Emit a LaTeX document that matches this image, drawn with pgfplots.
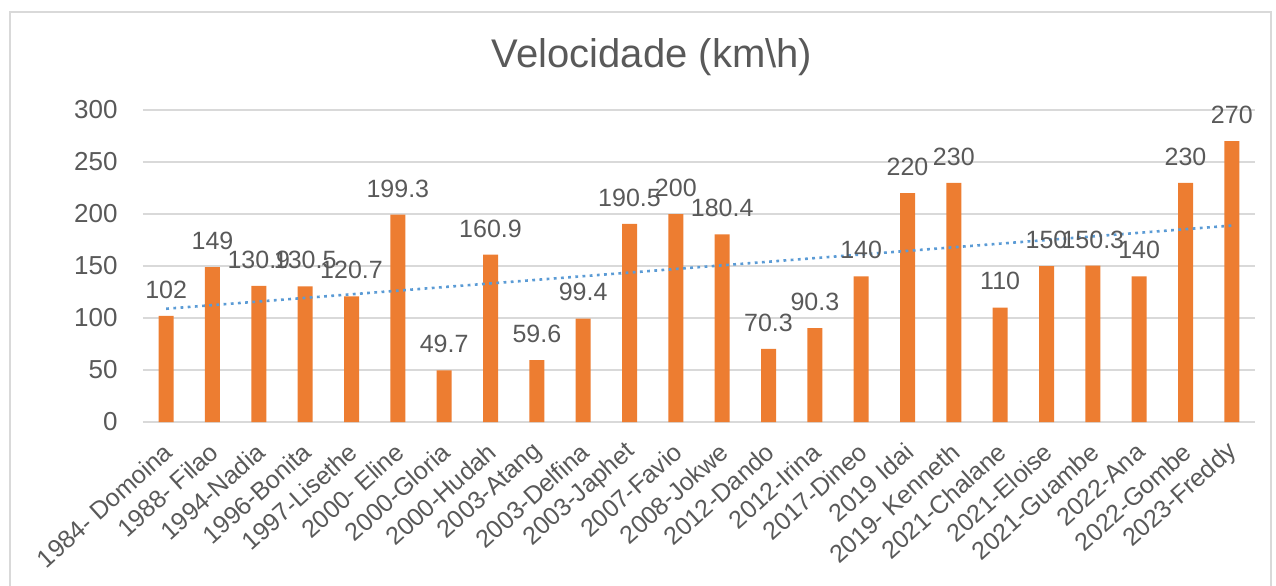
\documentclass[border=0pt]{standalone}
\usepackage{fontspec}
\setmainfont{Liberation Sans}
\usepackage{pgfplots}
\pgfplotsset{compat=1.18}
\definecolor{barorange}{HTML}{ED7D31}
\definecolor{trendblue}{HTML}{5B9BD5}
\definecolor{gridgray}{HTML}{D9D9D9}
\definecolor{txtgray}{HTML}{595959}

\pgfplotstableread{
x y
0 102
1 149
2 130.9
3 130.5
4 120.7
5 199.3
6 49.7
7 160.9
8 59.6
9 99.4
10 190.5
11 200
12 180.4
13 70.3
14 90.3
15 140
16 220
17 230
18 110
19 150
20 150.3
21 140
22 230
23 270
}\velocidade

\begin{document}
\begin{tikzpicture}
% 1 px of the reference = 0.5pt
\useasboundingbox (0,0) rectangle (638pt,292.5pt);
\draw[gridgray, line width=0.6pt] (5pt,-5pt) rectangle (635.5pt,286.5pt);
\node[anchor=base, text=txtgray, font=\fontsize{20}{24}\selectfont] at (326pt,258.5pt) {Velocidade (km\textbackslash h)};
\begin{axis}[
    at={(71.5pt,81.5pt)}, anchor=south west,
    scale only axis,
    width=556pt, height=156pt,
    xmin=-0.5, xmax=23.5,
    ymin=0, ymax=300,
    ytick={0,50,...,300},
    xtick={0,...,23},
    xticklabels={1984- Domoina,1988- Filao,1994-Nadia,1996-Bonita,1997-Lisethe,2000- Eline,2000-Gloria,2000-Hudah,2003-Atang,2003-Delfina,2003-Japhet,2007-Favio,2008-Jokwe,2012-Dando,2012-Irina,2017-Dineo,2019 Idai,2019- Kenneth,2021-Chalane,2021-Eloise,2021-Guambe,2022-Ana,2022-Gombe,2023-Freddy},
    axis line style={draw=none},
    major tick length=0pt,
    ymajorgrids,
    grid style={gridgray, line width=0.75pt},
    /pgf/number format/assume math mode=true,
    tick label style={text=txtgray, font=\fontsize{13}{15}\selectfont},
    yticklabel style={anchor=east, inner sep=0pt, xshift=-12.5pt},
    xticklabel style={xshift=1pt, yshift=-13pt, rotate=42, anchor=east, inner sep=0pt, font=\fontsize{12.5}{15}\selectfont},
    clip=false,
]
\addplot[ybar, bar width=7.5pt, fill=barorange, draw=none,
    nodes near coords={\pgfmathprintnumber[fixed, precision=1]{\pgfplotspointmeta}},
    every node near coord/.append style={text=txtgray, font=\fontsize{12.5}{15}\selectfont, anchor=south, inner sep=0pt, yshift=8.5pt}]
  table[x=x, y=y] {\velocidade};
\addplot[trendblue, line width=1.3pt, dash pattern=on 1.4pt off 2.2pt]
  coordinates {(0,108.9) (23,188.9)};
\end{axis}
\end{tikzpicture}
\end{document}
